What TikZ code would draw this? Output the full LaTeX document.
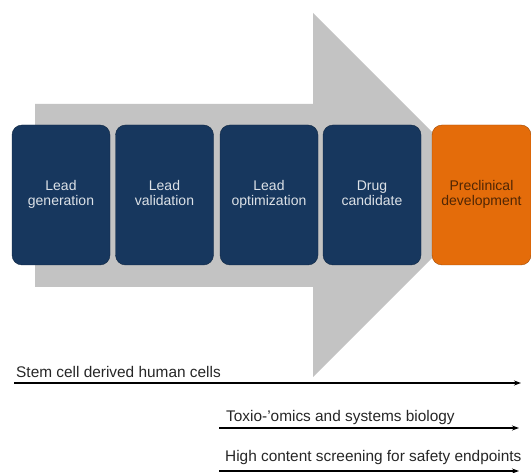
\documentclass[tikz,border=0pt]{standalone}
\usepackage{fontspec}
\setmainfont{Liberation Sans}
\usetikzlibrary{arrows.meta}
\definecolor{navy}{HTML}{17375E}
\definecolor{pipeorange}{HTML}{E46C0A}
\definecolor{arrowgray}{HTML}{C3C3C3}
\begin{document}
\begin{tikzpicture}[x=1pt,y=-1pt]
 \tikzset{stage/.style={draw=navy!70!black, fill=navy, rounded corners=10pt, minimum width=98pt, minimum height=140pt, align=center, text=white!85!navy, font=\fontsize{14}{15}\selectfont, execute at begin node=\strut, execute at end node=\strut},
  track/.style={line width=1.2pt, -{Stealth[length=7pt,width=5pt]}}}
  \useasboundingbox (0,0) rectangle (531,473);
  % big gray arrow behind the stages
  \fill[arrowgray] (35,104) -- (313,104) -- (313,13) -- (495,195) -- (313,377) -- (313,287) -- (35,287) -- cycle;
  \node[stage] (LG) at (61,195) {Lead\\generation};
  \node[stage] (LV) at (164.5,195) {Lead\\validation};
  \node[stage] (LO) at (269,195) {Lead\\optimization};
  \node[stage] (DC) at (372,195) {Drug\\candidate};
  \node[stage, fill=pipeorange, draw=pipeorange!70!black, text=black!65!pipeorange, minimum width=99pt] (PD) at (481.5,195) {Preclinical\\development};
  % technologies
  \coordinate (S1) at (14,383);   \coordinate (E1) at (521,383);
  \coordinate (S2) at (219,428);  \coordinate (E2) at (519,428);
  \coordinate (S3) at (219,471);  \coordinate (E3) at (519,471);
  \draw[track] (S1) -- (E1);
  \draw[track] (S2) -- (E2);
  \draw[track] (S3) -- (E3);
  \node[anchor=base west, inner sep=0pt, font=\fontsize{15.4}{18}\selectfont, text=black!85] (T1) at (16,378) {Stem cell derived human cells};
  \node[anchor=base west, inner sep=0pt, font=\fontsize{15.4}{18}\selectfont, text=black!85] (T2) at (226,422) {Toxio-'omics and systems biology};
  \node[anchor=base west, inner sep=0pt, font=\fontsize{15.4}{18}\selectfont, text=black!85] (T3) at (225,462) {High content screening for safety endpoints};
\end{tikzpicture}
\end{document}
